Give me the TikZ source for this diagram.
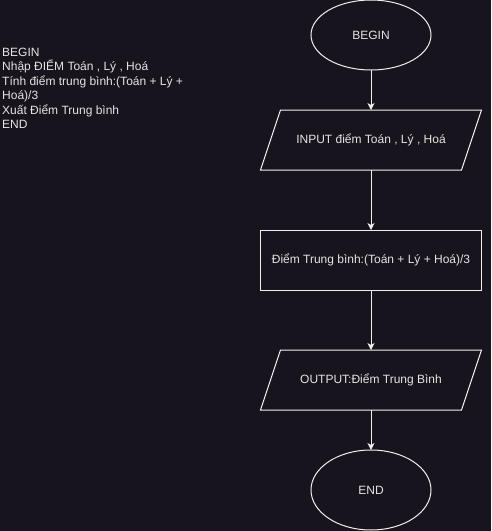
\documentclass[tikz,border=0pt]{standalone}
\usepackage{fontspec}
\setmainfont{Liberation Sans}
\usetikzlibrary{arrows.meta, positioning, shapes.geometric}
\definecolor{bgdark}{RGB}{24,20,29}
\definecolor{lineclr}{RGB}{240,240,240}
\definecolor{txtclr}{RGB}{228,228,228}
% slanted outline round an io node
\newcommand{\ioslant}[1]{%
  \draw[outline] ([xshift=-10pt]#1.south west) -- ([xshift=10pt]#1.north west)
    -- ([xshift=10pt]#1.north east) -- ([xshift=-10pt]#1.south east) -- cycle;}
\begin{document}
\begin{tikzpicture}[
    x=1pt, y=1pt,
    font=\fontsize{12}{14.4}\selectfont,
    every node/.style={text=txtclr},
    outline/.style={draw=lineclr, line width=1pt, line join=miter},
    terminal/.style={outline, ellipse, inner sep=0pt, outer sep=0pt, minimum width=120pt},
    iobox/.style={rectangle, inner sep=0pt, outer sep=0pt, minimum width=201pt, minimum height=60pt},
    procbox/.style={outline, rectangle, inner sep=0pt, outer sep=0pt, minimum width=221pt, minimum height=60pt},
    flow/.style={draw=lineclr, line width=1pt, -{Stealth[length=7pt, width=7pt, inset=2pt]}}
]
% Background and page size
\fill[bgdark] (0,0) rectangle (491,-531);
\useasboundingbox (0,0) rectangle (491,-531);

% Pseudocode on the left
\node[anchor=north west, align=left, inner sep=0pt] (pseudo) at (2,-48) {%
    BEGIN\\
    Nhập ĐIỂM Toán , Lý , Hoá\\
    Tính điểm trung bình:(Toán + Lý +\\
    Hoá)/3\\
    Xuất Điểm Trung bình\\
    END};

% Flowchart
\node[terminal, minimum height=70pt] (begin) at (371,-35) {BEGIN};
\node[iobox, below=40pt of begin] (input) {INPUT điểm Toán , Lý , Hoá};
\node[procbox, below=60pt of input] (avg) {Điểm Trung bình:(Toán + Lý + Hoá)/3};
\node[iobox, below=60pt of avg] (output) {OUTPUT:Điểm Trung Bình};
\node[terminal, minimum height=80pt, below=40pt of output] (end) {END};
\ioslant{input}
\ioslant{output}

% Connectors
\draw[flow] (begin) -- (input);
\draw[flow] (input) -- (avg);
\draw[flow] (avg) -- (output);
\draw[flow] (output) -- (end);
\end{tikzpicture}
\end{document}
